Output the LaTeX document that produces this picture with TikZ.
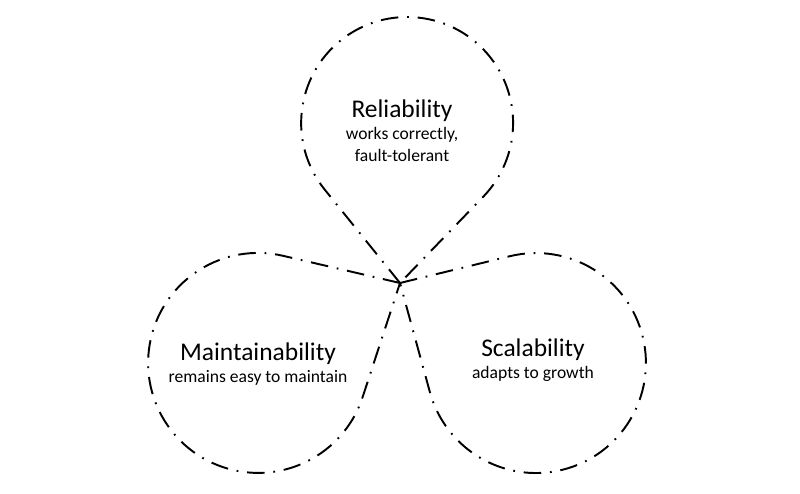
\documentclass[tikz,border=0pt]{standalone}
\usepackage{fontspec}
\setmainfont{Carlito}
\usetikzlibrary{positioning,calc}
\tikzset{
  petal/.style={draw=black,line width=1.1pt,line join=round,
    dash pattern=on 10pt off 5pt on 1pt off 5pt},
  petaltitle/.style={font=\fontsize{14.5}{17}\selectfont,inner sep=0pt},
  petalnote/.style={font=\fontsize{10}{12.5}\selectfont,align=center,inner sep=0pt},
}
\begin{document}
\begin{tikzpicture}[x=0.02cm,y=0.02cm]
  \useasboundingbox (0,0) rectangle (800,493);
  % common tip of the three petals
  \coordinate (tip) at (400,210);
  % tangent points on each circle
  \coordinate (relleft) at (324.3,303.9);
  \coordinate (mainttop) at (283.4,237.1);
  \coordinate (scaltop) at (509.9,236.8);
  % petals
  \draw[petal] (tip) -- (relleft) arc[start angle=218.6,end angle=-43.6,radius=2.12cm] -- cycle;
  \draw[petal] (tip) -- (mainttop) arc[start angle=76.7,end angle=342.8,radius=2.2cm] -- cycle;
  \draw[petal] (tip) -- (scaltop) arc[start angle=103.7,end angle=-164.7,radius=2.2cm] -- cycle;
  % labels
  \node[petaltitle,anchor=base] (reltitle) at (402,375) {Reliability};
  \node[petalnote,below=2.5pt of reltitle] (relnote) {works correctly,\\fault-tolerant};
  \node[petaltitle,anchor=base] (mainttitle) at (258,132) {Maintainability};
  \node[petalnote,below=2.5pt of mainttitle] (maintnote) {remains easy to maintain};
  \node[petaltitle,anchor=base] (scaltitle) at (533,136) {Scalability};
  \node[petalnote,below=2.5pt of scaltitle] (scalnote) {adapts to growth};
\end{tikzpicture}
\end{document}
